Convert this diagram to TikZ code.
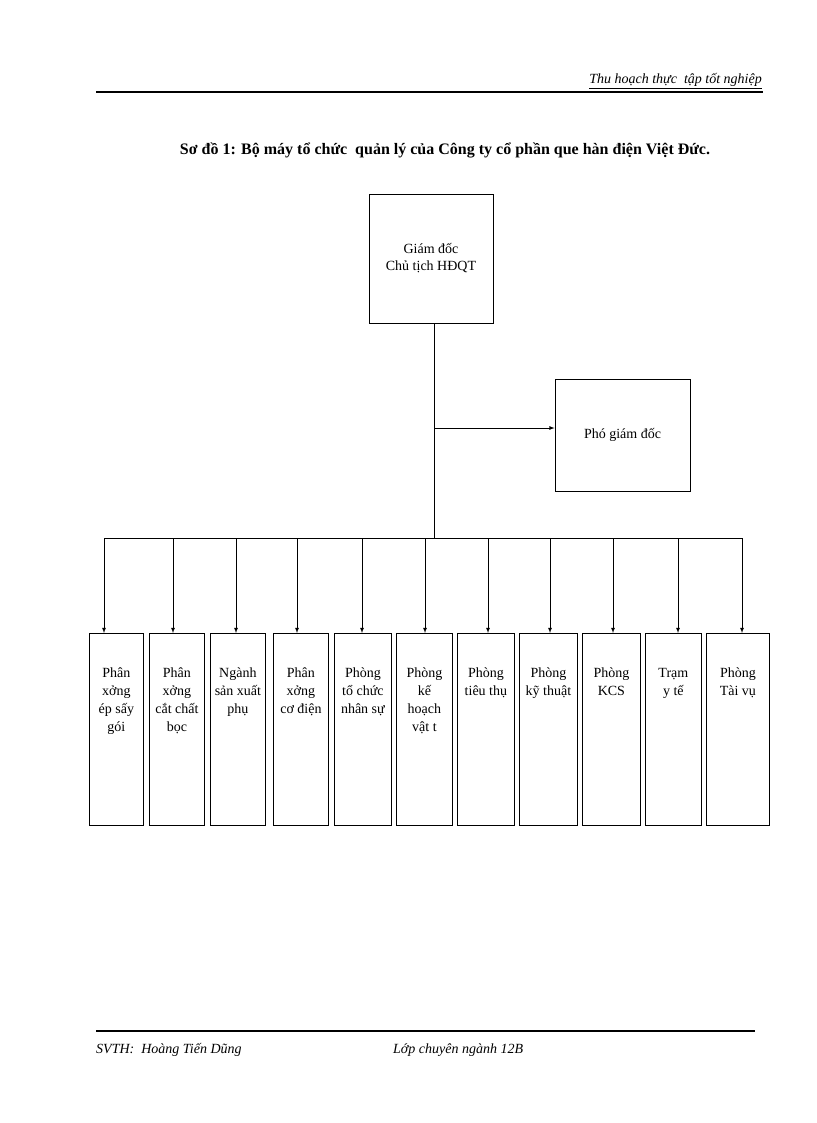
\documentclass[tikz,border=0pt]{standalone}
\usepackage{fontspec}
\setmainfont{Liberation Serif}
\usetikzlibrary{calc}
\begin{document}
\begin{tikzpicture}[x=1pt,y=-1pt,
 bx/.style={draw,thick,fill=white,align=center,font=\fontsize{14}{17}\selectfont,inner sep=1pt},
 lk/.style={thick},
 ar/.style={thick,-latex}]
\useasboundingbox (0,0) rectangle (816,1123);
% header
\draw[line width=1.5pt] (96,92) -- (763,92);
\node[anchor=south east,font=\itshape\fontsize{14}{16}\selectfont,inner sep=1pt] (hdr) at (763,90) {\underline{Thu hoạch thực\ \ tập tốt nghiệp}};
\node[font=\bfseries\fontsize{16}{18}\selectfont] (title) at (445,150) {Sơ đồ 1: Bộ máy tổ chức\ \ quản lý của Công ty cổ phần que hàn điện Việt Đức.};
% top
\node[bx,minimum width=124pt,minimum height=129pt] (gd) at (431,258.5) {Giám đốc\\Chủ tịch HĐQT};
\node[bx,minimum width=135pt,minimum height=112pt] (pgd) at (622.5,435) {Phó giám đốc};
\coordinate (j1) at (434,428);
\coordinate (j2) at (434,538);
\draw[lk] (gd.south -| j1) -- (j2);
\draw[ar] (j1) -- (pgd.west |- j1);
\coordinate (bl) at (104,538);
\coordinate (br) at (742,538);
\draw[lk] (bl) -- (br);
% bottom boxes
\foreach \n/\xa/\xb/\ax/\t in {
 b1/89/143/104/{Phân\\xởng\\ép sấy\\gói},
 b2/149/204/173/{Phân\\xởng\\cắt chất\\bọc},
 b3/210/265/236/{Ngành\\sản xuất\\phụ},
 b4/273/328/297/{Phân\\xởng\\cơ điện},
 b5/334/391/362/{Phòng\\tổ chức\\nhân sự},
 b6/396/452/425/{Phòng\\kế\\hoạch\\vật t},
 b7/457/514/488/{Phòng\\tiêu thụ},
 b8/519/577/550/{Phòng\\kỹ thuật},
 b9/582/640/613/{Phòng\\KCS},
 b10/645/701/678/{Trạm\\y tế},
 b11/706/769/742/{Phòng\\Tài vụ}}{
 \node[bx,minimum width=\xb pt-\xa pt,minimum height=192pt,anchor=north west] (\n) at (\xa,633) {};
 \node[align=center,font=\fontsize{14}{18}\selectfont,anchor=north,inner sep=0pt] (\n t) at ($(\n.north)+(0,35)$) {\t};
 \coordinate (\n a) at (\ax,538);
 \draw[ar] (\n a) -- (\n a |- \n.north);
}
% footer
\draw[line width=1.2pt] (96,1031) -- (755,1031);
\node[anchor=west,font=\itshape\fontsize{14}{16}\selectfont,inner sep=0pt] (f1) at (96,1050) {SVTH:\ \ Hoàng Tiến Dũng};
\node[anchor=west,font=\itshape\fontsize{14}{16}\selectfont,inner sep=0pt] (f2) at (393,1050) {Lớp chuyên ngành 12B};
\end{tikzpicture}
\end{document}
